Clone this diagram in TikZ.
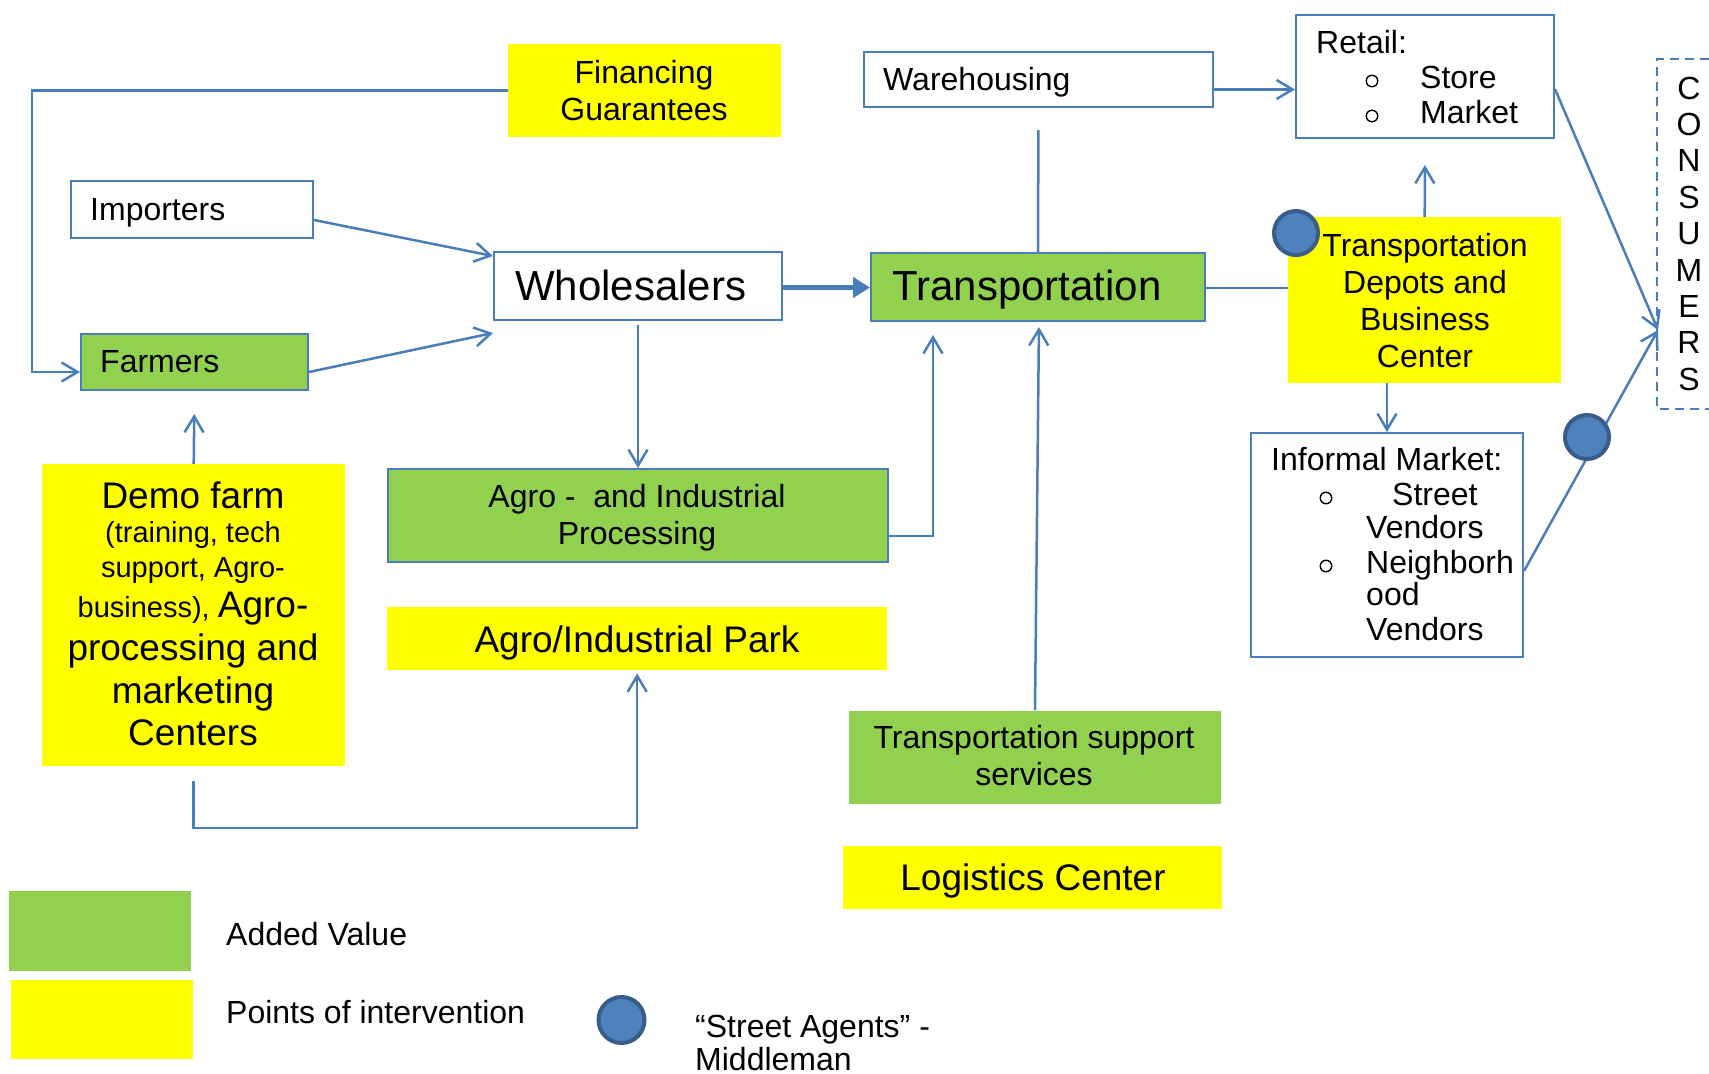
\documentclass[tikz,border=0pt]{standalone}
\usepackage{fontspec}
\setmainfont{Liberation Sans}
\usetikzlibrary{arrows.meta,calc}
\definecolor{linec}{RGB}{74,126,187}
\definecolor{greenf}{RGB}{146,208,80}
\definecolor{yellowf}{RGB}{255,255,0}
\definecolor{dotfill}{RGB}{79,129,189}
\definecolor{dotline}{RGB}{56,93,138}
\newcommand{\fsz}[1]{\fontsize{#1}{37}\selectfont}
\tikzset{
  frame/.style={draw=linec, line width=2pt, rectangle, inner sep=0pt, anchor=north west},
  plainbox/.style={frame, fill=white},
  greenbox/.style={frame, fill=greenf},
  yellowbox/.style={rectangle, inner sep=0pt, anchor=north west, fill=yellowf},
  txt/.style={inner sep=0pt, anchor=base, font=\fsz{32}},
  ltxt/.style={inner sep=0pt, anchor=base west, font=\fsz{32}},
  % multi-line text: anchored on the baseline of its last line
  mtxt/.style={inner sep=0pt, anchor=base, align=center, font=\fsz{32}},
  bul/.style={circle, draw=black, line width=1.4pt, minimum size=11.5pt, inner sep=0pt},
  conn/.style={draw=linec, line width=2.5pt, -{Straight Barb[length=16pt,width=19pt]}},
  link/.style={draw=linec, line width=2.5pt},
  boldarrow/.style={draw=linec, line width=5pt, -{Triangle[length=17pt,width=20pt]}},
  agent/.style={circle, draw=dotline, fill=dotfill, line width=4pt, minimum size=44pt, inner sep=0pt},
}
\begin{document}
\begin{tikzpicture}[x=1pt, y=-1pt]
\useasboundingbox (0,0) rectangle (1709,1074);
\fill[white] (0,0) rectangle (1709,1074);

% ---- boxes ----
\node[yellowbox, minimum width=273pt, minimum height=93pt] (fin) at (508,44) {};
\node[mtxt] (fin-t) at (644,120) {Financing\\Guarantees};

\node[plainbox, minimum width=242pt, minimum height=57pt] (importers) at (70,180) {};
\node[ltxt] (importers-t) at (90,220) {Importers};

\node[greenbox, minimum width=227pt, minimum height=56pt] (farmers) at (80,333) {};
\node[ltxt] (farmers-t) at (100,372) {Farmers};

\node[plainbox, minimum width=288pt, minimum height=68pt] (whole) at (493,251) {};
\node[ltxt, font=\fsz{42}] (whole-t) at (515,300) {Wholesalers};

\node[greenbox, minimum width=334pt, minimum height=68pt] (transport) at (870,252) {};
\node[ltxt, font=\fsz{42}] (transport-t) at (892,300) {Transportation};

\node[plainbox, minimum width=349pt, minimum height=55pt] (wh) at (863,51) {};
\node[ltxt] (wh-t) at (883,90) {Warehousing};

\node[plainbox, minimum width=258pt, minimum height=123pt] (retail) at (1295,14) {};
\node[ltxt] (retail-t) at (1316,53) {Retail:};
\node[bul] (retail-b1) at (1372,81) {};
\node[ltxt] (retail-s) at (1420,88) {Store};
\node[bul] (retail-b2) at (1372,116) {};
\node[ltxt] (retail-m) at (1420,123) {Market};

\node[yellowbox, minimum width=273pt, minimum height=166pt] (depots) at (1288,217) {};
\node[mtxt] (depots-t) at (1425,367) {Transportation\\Depots and\\Business\\Center};

\node[plainbox, minimum width=272pt, minimum height=224pt] (informal) at (1250,432) {};
\node[ltxt] (informal-t) at (1271,470) {Informal Market:};
\node[bul] (informal-b1) at (1326,498) {};
\node[ltxt] (informal-l1) at (1392,505) {Street};
\node[ltxt] (informal-l2) at (1366,538) {Vendors};
\node[bul] (informal-b2) at (1326,566) {};
\node[ltxt] (informal-l3) at (1366,573) {Neighborh};
\node[ltxt] (informal-l4) at (1366,605) {ood};
\node[ltxt] (informal-l5) at (1366,640) {Vendors};

\node[greenbox, minimum width=500pt, minimum height=93pt] (agro) at (387,468) {};
\node[mtxt] (agro-t) at (637,544) {Agro -\ \ and Industrial\\Processing};

\node[yellowbox, minimum width=500pt, minimum height=63pt] (park) at (387,607) {};
\node[txt, font=\fsz{37}] (park-t) at (637,652) {Agro/Industrial Park};

\node[yellowbox, minimum width=303pt, minimum height=302pt] (demo) at (42,464) {};
\node[txt, font=\fsz{37}] (demo-1) at (193,508) {Demo farm};
\node[txt, font=\fsz{29}] (demo-2) at (193,542) {(training, tech};
\node[txt, font=\fsz{29}] (demo-3) at (193,577) {support, Agro-};
\node[txt, font=\fsz{29}] (demo-4) at (193,617) {business), {\fsz{37}Agro-}};
\node[txt, font=\fsz{37}] (demo-5) at (193,660) {processing and};
\node[txt, font=\fsz{37}] (demo-6) at (193,703) {marketing};
\node[txt, font=\fsz{37}] (demo-7) at (193,745) {Centers};

\node[greenbox, draw=none, minimum width=372pt, minimum height=93pt] (tsupport) at (848,710) {};
\node[mtxt] (tsupport-t) at (1034,785) {Transportation support\\services};

\node[yellowbox, minimum width=379pt, minimum height=63pt] (logistics) at (843,846) {};
\node[txt, font=\fsz{37}] (logistics-t) at (1033,890) {Logistics Center};

% ---- consumers column ----
\draw[draw=linec, line width=2pt, dash pattern=on 9pt off 6pt]
  (1709,59) -- (1657,59) -- (1657,409) -- (1709,409);
\foreach \ch [count=\i from 0] in {C,O,N,S,U,M,E,R,S}
  \node[txt] (cons-\i) at (1689,{99+36.4*\i}) {\ch};
\coordinate (cin) at (1658,330);

% ---- connectors ----
\coordinate (lft) at (32,0);
\coordinate (bend) at (0,828);
\draw[conn] (fin.west) -- (fin.west -| lft) |- ([yshift=-10pt]farmers.west);
\draw[conn] ([yshift=-10.5pt]importers.east) -- ([yshift=30pt]whole.west);
\draw[conn] ([yshift=-10pt]farmers.east) -- ([yshift=-47pt]whole.west);
\draw[boldarrow] ([yshift=-1.5pt]whole.east) -- ([yshift=-0.5pt]transport.west);
\draw[conn, shorten <=4pt] (whole.south) -- (agro.north);
\draw[conn, shorten >=13pt] ([yshift=-20.5pt]agro.east) -| ([xshift=-105pt]transport.south);
\draw[conn, shorten >=5pt] (tsupport.north) -- ([xshift=1pt]transport.south);
\draw[link, shorten <=22pt] (wh.south) -- (transport.north);
\draw[conn] ([yshift=-10pt]wh.east) -- ([yshift=-13pt]retail.west);
\draw[link] ([yshift=-1pt]transport.east) -- ([yshift=-1pt]transport.east -| depots.west);
\draw[conn, shorten >=26pt] (depots.north) -- (retail.south);
\draw[conn] (depots.south -| informal.north) -- (informal.north);
\draw[conn] ([yshift=-12.5pt]retail.east) -- (cin);
\draw[conn] ([yshift=-26pt]informal.east) -- (cin);
\draw[conn, shorten >=23pt] (demo.north) -- (farmers.south);
\draw[conn, shorten <=15pt, shorten >=3pt] (demo.south) -- (demo.south |- bend) -| (park.south);

% ---- street agents ----
\node[agent] (agent1) at (1296,233) {};
\node[agent] (agent2) at (1587,437) {};

% ---- legend ----
\node[yellowbox, fill=greenf, minimum width=182pt, minimum height=80pt] (key-green) at (9,891) {};
\node[ltxt] (key-green-t) at (226,945) {Added Value};
\node[yellowbox, minimum width=182pt, minimum height=79pt] (key-yellow) at (11,980) {};
\node[ltxt] (key-yellow-t) at (226,1023) {Points of intervention};
\node[agent, minimum size=46pt] (key-agent) at (621.5,1020) {};
\node[ltxt] (key-agent-t1) at (695,1037) {“Street Agents” -};
\node[ltxt] (key-agent-t2) at (695,1070) {Middleman};
\end{tikzpicture}
\end{document}
